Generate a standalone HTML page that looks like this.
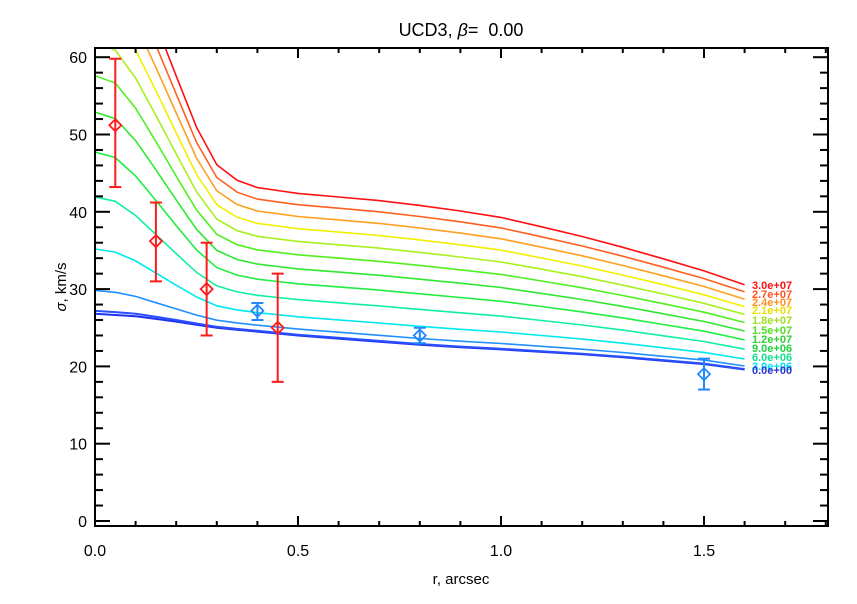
<!DOCTYPE html>
<html><head><meta charset="utf-8"><style>
html,body{margin:0;padding:0;background:#fff;}
svg{display:block;font-family:"Liberation Sans",sans-serif;}
</style></head><body>
<svg id="s" width="857" height="604" viewBox="0 0 857 604" xmlns="http://www.w3.org/2000/svg">
<text x="461" y="36" font-size="18" text-anchor="middle">UCD3, <tspan font-style="italic">β</tspan>=&#160;&#160;0.00</text>
<text x="461" y="584" font-size="15" text-anchor="middle">r, arcsec</text>
<text transform="translate(66,287) rotate(-90)" font-size="15" text-anchor="middle"><tspan font-style="italic">σ</tspan>, km/s</text>
<g id="g"></g>
</svg>
<script>
var X0=95,X1=828,Y0=48,Y1=526;
function px(x){return 95+x*406;}
function py(y){return 521-y*7.73;}
var ns="http://www.w3.org/2000/svg",g=document.getElementById('g');
function el(t,a,txt){var e=document.createElementNS(ns,t);for(var k in a)e.setAttribute(k,a[k]);if(txt!=null)e.textContent=txt;g.appendChild(e);return e;}
function interp(tab,x){for(var i=0;i<tab.length-1;i++){if(x<=tab[i+1][0]){var t=(x-tab[i][0])/(tab[i+1][0]-tab[i][0]);return tab[i][1]+t*(tab[i+1][1]-tab[i][1]);}}return tab[tab.length-1][1];}
var B=[[0,26.8],[0.1,26.5],[0.2,25.8],[0.3,25.0],[0.5,24.0],[0.85,22.6],[1.0,22.2],[1.25,21.4],[1.5,20.3],[1.6,19.6]];
var G=[[0,520],[0.05,500],[0.1,430],[0.15,345],[0.2,265],[0.25,195],[0.3,150],[0.35,133],[0.4,126],[0.5,122],[0.7,118],[0.85,113],[1.0,105],[1.2,89],[1.4,72],[1.6,55]];
var curves=[[0,'#2030f0'],[0.04,'#2850ff'],[0.33,'#2090ff'],[1,'#00e8f0'],[2,'#10f0a0'],[3,'#20ee40'],[4,'#30e830'],[5,'#50f020'],[6,'#a8f020'],[7,'#f0f000'],[8,'#ffa020'],[9,'#ff6020'],[10,'#ff1010']];
var defs=el('clipPath',{id:'c'});var r=document.createElementNS(ns,'rect');r.setAttribute('x',X0);r.setAttribute('y',Y0);r.setAttribute('width',X1-X0);r.setAttribute('height',Y1-Y0);defs.appendChild(r);
var xs=[0,0.05,0.1,0.15,0.2,0.25,0.3,0.35,0.4,0.45,0.5,0.6,0.7,0.8,0.9,1.0,1.1,1.2,1.3,1.4,1.5,1.6];
curves.forEach(function(c){var pts=xs.map(function(x){var b=interp(B,x);var s=Math.sqrt(b*b+c[0]*interp(G,x));return px(x).toFixed(1)+','+py(s).toFixed(1);}).join(' ');
el('polyline',{points:pts,fill:'none',stroke:c[1],'stroke-width':c[0]<0.1?2:1.6,'clip-path':'url(#c)'});});
var labs=['3.0e+07','2.7e+07','2.4e+07','2.1e+07','1.8e+07','1.5e+07','1.2e+07','9.0e+06','6.0e+06','3.0e+06','0.0e+00'];
var lc=['#ff1010','#ff5020','#ff9020','#e8e000','#a0e020','#50e020','#30d030','#20d040','#10e090','#00e0f0','#3030d0'];
var ly=[285,294,302,310,320,330,339,348,357,366,370];
labs.forEach(function(l,i){el('text',{x:752,y:ly[i]+4,'font-size':11,'font-weight':'bold',fill:lc[i]},l);});
el('rect',{x:X0,y:Y0,width:X1-X0,height:Y1-Y0,fill:'none',stroke:'#000','stroke-width':2});
for(var i=0;i<=18;i++){var x=px(i*0.1);var L=(i%5==0)?10:5;
el('line',{x1:x,y1:Y1,x2:x,y2:Y1-L,stroke:'#000','stroke-width':2});el('line',{x1:x,y1:Y0,x2:x,y2:Y0+L,stroke:'#000','stroke-width':2});
if(i%5==0)el('text',{x:x,y:556,'font-size':16,'text-anchor':'middle'},(i/10).toFixed(1));}
for(var v=0;v<=60;v+=2){var y=py(v);var L=(v%10==0)?15:8;
el('line',{x1:X0,y1:y,x2:X0+L,y2:y,stroke:'#000','stroke-width':2});el('line',{x1:X1,y1:y,x2:X1-L,y2:y,stroke:'#000','stroke-width':2});
if(v%10==0)el('text',{x:87,y:y+6,'font-size':16,'text-anchor':'end'},v);}
function pt(x,y,lo,hi,col){var X=px(x);el('line',{x1:X,y1:py(lo),x2:X,y2:py(hi),stroke:col,'stroke-width':2});
el('line',{x1:X-6,y1:py(lo),x2:X+6,y2:py(lo),stroke:col,'stroke-width':2});el('line',{x1:X-6,y1:py(hi),x2:X+6,y2:py(hi),stroke:col,'stroke-width':2});
var Y=py(y);el('polygon',{points:(X-6)+','+Y+' '+X+','+(Y-6)+' '+(X+6)+','+Y+' '+X+','+(Y+6),fill:'none',stroke:col,'stroke-width':1.8});}
var red='#ff1a1a',bl='#2288ff';
pt(0.05,51.2,43.2,59.8,red);pt(0.15,36.2,31,41.2,red);pt(0.275,30,24,36,red);pt(0.45,25,18,32,red);
pt(0.4,27.2,26,28.2,bl);pt(0.8,24,23,25,bl);pt(1.5,19,17,21,bl);
</script>
</body></html>
